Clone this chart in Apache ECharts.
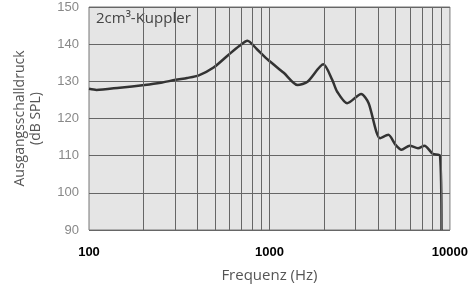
<!DOCTYPE html>
<html><head><meta charset="utf-8">
<script src="https://cdn.jsdelivr.net/npm/echarts@6/dist/echarts.min.js"></script>
<style>html,body{margin:0;padding:0;background:#fff}#c{width:471px;height:288px}</style>
</head><body><div id="c"></div>
<script>
// Frequency (Hz)
const freq = [100, 110, 148, 203, 250, 302, 350, 406, 490, 592, 680, 755, 850, 981, 1200, 1432, 1625, 1989, 2228, 2373, 2693, 3225, 3540, 4100, 4557, 5000, 5389, 5985, 6653, 7230, 8036, 8813, 8980];
// Output SPL (dB SPL)
const spl  = [128.0, 127.7, 128.3, 129.0, 129.6, 130.4, 130.9, 131.6, 133.7, 137.1, 139.5, 140.9, 138.7, 135.8, 132.3, 129.0, 129.9, 134.6, 130.4, 127.2, 124.1, 126.6, 124.2, 114.7, 115.6, 112.9, 111.6, 112.7, 112.0, 112.7, 110.5, 110.0, 90];
const yTicks = [90, 100, 110, 120, 130, 140, 150];
const xTicks = [100, 1000, 10000];
const vGrid = [200, 300, 400, 500, 600, 700, 800, 900, 1000, 2000, 3000, 4000, 5000, 6000, 7000, 8000, 9000];

const chart = echarts.init(document.getElementById('c'), null, {renderer: 'canvas'});
chart.setOption({
  animation: false,
  backgroundColor: '#fff',
  grid: {left: 89, right: 17, top: 7, bottom: 58, show: true, backgroundColor: '#e5e5e5', borderColor: '#777', borderWidth: 1},
  graphic: [{type: 'text', left: 96, top: 11, style: {text: '2cm³-Kuppler', font: '15px "Open Sans"', fill: '#444'}}],
  xAxis: {
    type: 'log', logBase: 10, min: 100, max: 10000,
    name: 'Frequenz (Hz)', nameLocation: 'middle', nameGap: 38,
    nameTextStyle: {fontFamily: 'Open Sans', fontSize: 15, color: '#555'},
    axisLine: {show: false}, axisTick: {show: false},
    axisLabel: {fontFamily: 'Liberation Sans', fontSize: 13, color: '#000', fontWeight: 'bold', margin: 16,
      formatter: v => xTicks.includes(Math.round(v)) ? String(Math.round(v)) : ''},
    splitLine: {show: false}
  },
  yAxis: {
    type: 'value', min: 90, max: 150, interval: 10,
    name: 'Ausgangsschalldruck\n(dB SPL)', nameLocation: 'middle', nameGap: 45, nameRotate: 90,
    nameTextStyle: {fontFamily: 'Open Sans', fontSize: 14, color: '#555', lineHeight: 16},
    axisLine: {show: false}, axisTick: {show: false},
    axisLabel: {fontFamily: 'Liberation Sans', fontSize: 13, color: '#888', margin: 10,
      formatter: v => yTicks.includes(v) ? String(v) : ''},
    splitLine: {show: true, lineStyle: {color: '#666', width: 1}}
  },
  series: [{
    type: 'line',
    data: freq.map((f, i) => [f, spl[i]]),
    smooth: 0.25, showSymbol: false,
    lineStyle: {color: '#333', width: 2.5},
    clip: true,
    markLine: {
      silent: true, symbol: 'none', label: {show: false},
      lineStyle: {color: '#666', width: 1, type: 'solid'},
      data: vGrid.map(v => ({xAxis: v}))
    },
    z: 3
  }]
});
</script></body></html>
